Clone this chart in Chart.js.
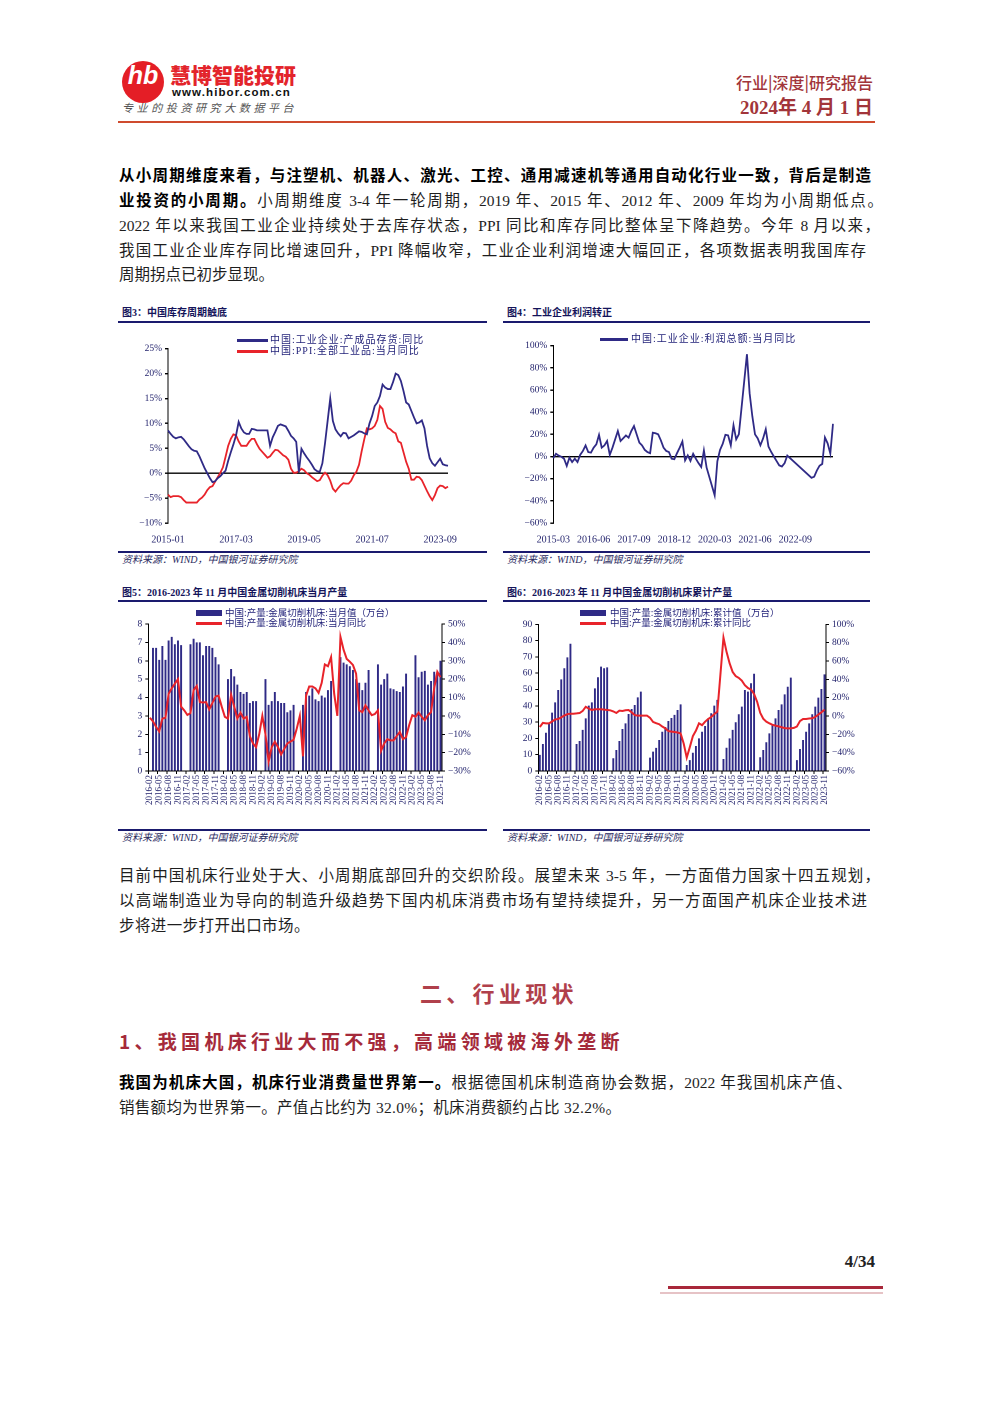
<!DOCTYPE html>
<html><head><meta charset="utf-8">
<script src="https://cdn.jsdelivr.net/npm/chart.js@4.4.1/dist/chart.umd.min.js"></script>
<style>
html,body{margin:0;padding:0;background:#fff;}
body{width:992px;height:1403px;position:relative;overflow:hidden;font-family:'Liberation Serif','Noto Sans CJK SC',serif;color:#1e1e1e;}
.a{position:absolute;white-space:nowrap;}
.ln{position:absolute;left:119px;height:24px;line-height:24px;font-size:15.5px;white-space:nowrap;text-align:justify;text-align-last:justify;}
.nat{text-align-last:auto;}
b{font-weight:700;color:#000;}
.ttl{position:absolute;font-size:10px;font-weight:700;color:#14145a;line-height:14px;white-space:nowrap;font-family:'Liberation Serif','Noto Sans CJK SC',serif;}
.rule{position:absolute;height:1.5px;background:#1a1a6e;}
.src{position:absolute;font-size:10px;font-style:italic;color:#2a2a5e;line-height:14px;white-space:nowrap;}
.lg{position:absolute;font-size:10px;color:#23237a;line-height:12px;white-space:nowrap;letter-spacing:1px;z-index:5;}
.lg2{position:absolute;font-size:9.5px;color:#23237a;line-height:12px;white-space:nowrap;z-index:5;}
.sw{position:absolute;z-index:5;}
canvas{position:absolute;}
</style></head>
<body>
<!-- header -->
<div class="a" style="left:122px;top:61px;width:42px;height:42px;border-radius:50%;background:#e41e26;"></div>
<div class="a" style="left:122px;top:61px;width:42px;height:42px;line-height:42px;text-align:center;color:#fff;font:italic 700 25px 'Liberation Sans',sans-serif;">hb</div>
<div class="a" style="left:170px;top:61px;font-size:21px;line-height:26px;font-weight:900;color:#e3242b;font-family:'Noto Sans CJK SC',sans-serif;">慧博智能投研</div>
<div class="a" style="left:172px;top:86px;font:700 11.5px/13px 'Liberation Sans',sans-serif;letter-spacing:1.1px;color:#111;">www.hibor.com.cn</div>
<div class="a" style="left:122px;top:100px;font-size:11px;line-height:14px;letter-spacing:3.6px;color:#555;font-style:italic;font-family:'Noto Sans CJK SC',sans-serif;">专业的投资研究大数据平台</div>
<div class="a" style="right:119px;top:72px;font-size:16px;line-height:20px;color:#a2353a;font-weight:500;font-family:'Noto Sans CJK SC',sans-serif;">行业|深度|研究报告</div>
<div class="a" style="right:119px;top:96px;font-size:19px;line-height:24px;font-weight:700;color:#a2353a;">2024年 4 月 1 日</div>
<div class="a" style="left:118px;top:121px;width:757px;height:2px;background:#cf4b2e;"></div>

<!-- paragraph 1 -->
<div class="ln" style="top:164px;width:752px;"><b>从小周期维度来看，与注塑机、机器人、激光、工控、通用减速机等通用自动化行业一致，背后是制造</b></div>
<div class="ln" style="top:189px;width:764px;"><b>业投资的小周期。</b>小周期维度 3-4 年一轮周期，2019 年、2015 年、2012 年、2009 年均为小周期低点。</div>
<div class="ln" style="top:214px;width:761px;">2022 年以来我国工业企业持续处于去库存状态，PPI 同比和库存同比整体呈下降趋势。今年 8 月以来，</div>
<div class="ln" style="top:239px;width:747px;">我国工业企业库存同比增速回升，PPI 降幅收窄，工业企业利润增速大幅回正，各项数据表明我国库存</div>
<div class="ln nat" style="top:263px;">周期拐点已初步显现。</div>

<!-- chart frames -->
<div class="ttl" style="left:122px;top:306px;">图3：中国库存周期触底</div>
<div class="rule" style="left:118px;top:321px;width:369px;"></div>
<div class="rule" style="left:118px;top:551px;width:369px;"></div>
<div class="src" style="left:122px;top:553px;">资料来源：WIND，中国银河证券研究院</div>

<div class="ttl" style="left:507px;top:306px;">图4：工业企业利润转正</div>
<div class="rule" style="left:503px;top:321px;width:367px;"></div>
<div class="rule" style="left:503px;top:551px;width:367px;"></div>
<div class="src" style="left:507px;top:553px;">资料来源：WIND，中国银河证券研究院</div>

<div class="ttl" style="left:122px;top:586px;">图5：2016-2023 年 11 月中国金属切削机床当月产量</div>
<div class="rule" style="left:118px;top:600px;width:369px;"></div>
<div class="rule" style="left:118px;top:829px;width:369px;"></div>
<div class="src" style="left:122px;top:831px;">资料来源：WIND，中国银河证券研究院</div>

<div class="ttl" style="left:507px;top:586px;">图6：2016-2023 年 11 月中国金属切削机床累计产量</div>
<div class="rule" style="left:503px;top:600px;width:367px;"></div>
<div class="rule" style="left:503px;top:829px;width:367px;"></div>
<div class="src" style="left:507px;top:831px;">资料来源：WIND，中国银河证券研究院</div>

<!-- legends -->
<div class="sw" style="left:237px;top:339px;width:31px;height:2.5px;background:#2f2a86;"></div>
<div class="lg" style="left:270px;top:334px;">中国:工业企业:产成品存货:同比</div>
<div class="sw" style="left:237px;top:350px;width:31px;height:2.5px;background:#e8232a;"></div>
<div class="lg" style="left:270px;top:345px;">中国:PPI:全部工业品:当月同比</div>

<div class="sw" style="left:600px;top:338px;width:28px;height:2.5px;background:#2f2a86;"></div>
<div class="lg" style="left:631px;top:333px;">中国:工业企业:利润总额:当月同比</div>

<div class="sw" style="left:196px;top:610px;width:26px;height:6px;background:#2f2a86;"></div>
<div class="lg2" style="left:225px;top:607px;">中国:产量:金属切削机床:当月值（万台）</div>
<div class="sw" style="left:196px;top:622px;width:26px;height:2.5px;background:#e8232a;"></div>
<div class="lg2" style="left:225px;top:617px;">中国:产量:金属切削机床:当月同比</div>

<div class="sw" style="left:580px;top:610px;width:26px;height:6px;background:#2f2a86;"></div>
<div class="lg2" style="left:610px;top:607px;">中国:产量:金属切削机床:累计值（万台）</div>
<div class="sw" style="left:580px;top:622px;width:26px;height:2.5px;background:#e8232a;"></div>
<div class="lg2" style="left:610px;top:617px;">中国:产量:金属切削机床:累计同比</div>

<canvas id="c3" width="369" height="211" style="left:118px;top:340px;"></canvas>
<canvas id="c4" width="367" height="215" style="left:503px;top:336px;"></canvas>
<canvas id="c5" width="369" height="205" style="left:118px;top:614px;"></canvas>
<canvas id="c6" width="367" height="205" style="left:503px;top:614px;"></canvas>

<!-- paragraph 2 -->
<div class="ln" style="top:864px;width:761px;">目前中国机床行业处于大、小周期底部回升的交织阶段。展望未来 3-5 年，一方面借力国家十四五规划，</div>
<div class="ln" style="top:889px;width:748px;">以高端制造业为导向的制造升级趋势下国内机床消费市场有望持续提升，另一方面国产机床企业技术进</div>
<div class="ln nat" style="top:914px;letter-spacing:0.4px;">步将进一步打开出口市场。</div>

<div class="a" style="left:420px;top:976px;font-size:22px;line-height:32px;font-weight:700;letter-spacing:4.3px;color:#b0404b;font-family:'Noto Sans CJK SC',sans-serif;">二、行业现状</div>
<div class="a" style="left:119px;top:1027px;font-size:19px;line-height:28px;font-weight:700;letter-spacing:4.3px;color:#a52a3a;font-family:'Noto Sans CJK SC',sans-serif;">1、我国机床行业大而不强，高端领域被海外垄断</div>

<div class="ln" style="top:1071px;width:733px;"><b>我国为机床大国，机床行业消费量世界第一。</b>根据德国机床制造商协会数据，2022 年我国机床产值、</div>
<div class="ln nat" style="top:1096px;letter-spacing:0.3px;">销售额均为世界第一。产值占比约为 32.0%；机床消费额约占比 32.2%。</div>

<div class="a" style="right:117px;top:1250px;font-size:17px;line-height:24px;font-weight:700;color:#222;">4/34</div>
<div class="a" style="left:668px;top:1286px;width:215px;height:3px;background:#a8283a;"></div>
<div class="a" style="left:660px;top:1292px;width:223px;height:2px;background:#e6c3c6;"></div>

<script>
// ---------------- data ----------------
// Fig 3: monthly 2015-01 .. 2023-12
const invYoY = [
 8.6,7.9,7.3,7.0,7.2,7.3,6.8,6.1,5.4,4.8,4.5,4.4,
 3.4,2.2,1.0,0.0,-1.0,-1.8,-1.6,-1.0,-0.6,0.0,0.5,2.5,
 4.2,5.8,7.6,10.3,9.0,8.2,7.9,7.9,8.9,8.8,8.6,8.6,
 8.6,8.6,8.6,5.5,7.2,8.3,9.5,9.8,9.6,9.4,8.5,7.5,
 7.0,6.3,0.2,4.9,4.0,3.2,2.5,1.7,0.8,0.4,0.3,2.0,
 6.0,10.5,15.0,10.5,8.8,8.0,7.4,8.1,8.0,7.0,7.3,7.6,
 8.0,8.4,8.3,8.0,7.8,10.0,11.5,13.5,14.2,15.5,17.8,17.2,
 16.9,16.9,18.3,20.0,19.7,18.5,16.5,14.2,13.8,12.5,11.2,10.0,
 10.2,10.6,9.0,5.5,3.0,2.0,1.5,2.2,2.9,1.8,1.6,1.5
];
const ppiYoY = [
 -4.3,-4.8,-4.6,-4.6,-4.6,-4.8,-5.4,-5.9,-5.9,-5.9,-5.9,-5.9,
 -5.3,-4.9,-4.3,-3.4,-2.8,-2.6,-1.7,-0.8,0.1,1.2,3.3,5.5,
 6.9,7.8,7.6,6.4,5.5,5.5,5.5,6.3,6.9,6.9,5.8,4.9,
 4.3,3.7,3.1,3.4,4.1,4.7,4.6,4.1,3.6,3.3,2.7,0.9,
 0.1,0.1,0.4,0.9,0.6,0.0,-0.3,-0.8,-1.2,-1.6,-1.4,-0.5,
 0.1,-0.4,-1.5,-3.1,-3.7,-3.0,-2.4,-2.0,-2.1,-2.1,-1.5,-0.4,
 0.3,1.7,4.4,6.8,9.0,8.8,9.0,9.5,10.7,13.5,12.9,10.3,
 9.1,8.8,8.3,8.0,6.4,6.1,4.2,2.3,0.9,-1.3,-1.3,-0.7,
 -0.8,-1.4,-2.5,-3.6,-4.6,-5.4,-4.4,-3.0,-2.5,-2.6,-3.0,-2.7
];
// Fig 4: monthly 2015-03 .. 2023-11
const profitYoY = [
 -1.5,2.5,0.8,-0.2,-2.0,-8.5,-1.0,-5.0,-2.0,-5.0,
 1.5,5.0,10.0,4.0,3.5,8.0,11.0,19.5,8.0,10.0,14.0,1.5,
 8.0,15.5,23.0,14.0,16.5,19.0,17.0,23.0,27.5,20.0,12.5,10.0,
 6.0,4.0,3.0,21.5,21.0,20.0,14.5,8.0,5.0,4.0,-2.0,-2.5,
 3.0,8.0,13.5,-3.5,1.0,-4.0,2.5,-2.0,-6.0,-9.5,5.5,-10.0,
 null,null,-35.0,-4.3,6.0,11.5,19.6,19.1,10.1,28.2,15.5,20.1,
 null,null,92.3,57.0,36.4,20.0,16.4,10.1,16.3,24.6,9.0,4.2,
 0.0,-4.0,-8.0,-9.0,-6.0,0.8,null,null,null,null,null,null,
 null,null,-19.2,-18.2,-12.6,-8.3,-6.7,17.2,11.9,2.7,29.5
];
// Fig 5: monthly 2016-02 .. 2023-11 (万台, %)
const monthProd = [
 null,6.7,6.7,6.05,6.8,6.05,7.1,7.3,6.9,7.1,6.85,
 null,null,6.9,7.2,7.0,7.0,6.3,6.8,6.8,6.7,6.2,5.8,
 null,null,5.0,5.55,5.15,4.7,4.3,4.2,4.3,3.7,3.8,3.8,
 null,null,5.0,3.6,3.8,4.3,3.8,3.7,3.7,3.2,3.3,3.6,
 null,null,3.6,4.3,4.1,4.5,3.9,3.8,4.1,4.0,4.4,4.9,
 null,null,6.2,5.9,5.8,5.7,5.5,5.0,4.8,4.4,4.8,5.5,
 null,null,5.8,4.7,5.0,5.3,4.5,4.45,4.35,4.3,4.6,5.3,
 null,null,6.3,5.1,5.4,5.45,4.7,4.9,5.4,5.35,6.0
];
const monthYoY = [
 -1,-3,-6,-8.5,-1.5,-1,12,15,17.5,20,5,
 3,0.5,1.5,14,16.3,7.5,7.3,7.5,3.5,7,10.5,11,
 5,-0.5,-1.5,11.5,5,-1.5,1.8,-1.5,-0.5,-11,-15,-17,
 -10,0,-10,-25,-17,-14,-17,-21,-18,-15,-14,-13,
 -7,0,-22,11,16,16,15,12.5,18,28,27,32,
 12,0,43,36,31,29.5,27.7,23,3,2,5.8,3,
 0.4,1,3,-19,-15,-12.7,-13.3,-13.3,-11,-8.7,-12.7,-11.5,
 -5,0.4,-0.5,1.8,-0.5,-2.4,0.4,2,15,24,21
];
// Fig 6: cumulative 2016-02 .. 2023-11 (万台, %)
const cumProd = [
 9.9,16.6,23.5,29.2,35.8,42.1,49.7,56.2,63.0,69.7,78.1,
 null,16.6,18.4,25.2,32.3,40.1,42.1,50.7,57.5,64.0,63.0,63.6,
 null,7.8,12.9,18.4,25.8,29.2,35.0,38.0,40.5,45.2,48.7,null,
 null,8.2,11.9,14.2,19.0,24.1,27.0,30.7,32.5,34.4,37.4,40.9,
 null,3.7,6.7,11.2,15.3,20.0,24.1,27.6,32.3,35.4,40.1,43.6,
 null,7.4,14.3,20.0,25.2,29.9,34.8,39.5,49.7,48.7,53.8,59.7,
 null,8.4,12.9,17.6,23.1,28.2,32.3,37.4,40.9,47.0,51.7,57.3,
 null,6.7,13.5,19.0,24.1,29.2,34.8,39.5,45.0,50.3,59.3
];
const cumYoY = [
 -12,-7.5,-8,-8,-6,-3.8,-3.3,-1.5,0.5,2,2.5,
 2.5,2.8,3.2,5.5,10,8,6.5,7.3,7.3,7.3,7,6.5,
 6.2,5,3.3,5.8,5.5,6.2,6.5,4,1,0.4,0.4,0.4,
 0.4,-2,-6.5,-7.8,-9,-11.5,-13.5,-16.5,-17,-17.5,-18,-19,
 -30,-45.5,-34,-22,-16,-8,-10,-6.2,-3.3,-1,2,4.7,
 null,85.5,70,57.5,48,43.5,41.5,38.5,33.5,30.5,28.8,24,
 15.5,3.5,-3,-6.2,-8,-9.6,-10.5,-11.3,-12.3,-13.2,-13.5,-13.5,
 -13,-11.5,-5.5,-3.3,-3.3,-2.8,-2.5,-1,1.5,4,7
];
// tick label settings
const fig3Start = [2015, 1], fig3Step = 26;
const fig4Start = [2015, 3], fig4Step = 15;
const fig56Start = [2016, 2], fig56Step = 3;

function monthLabels(start, n){
  const out=[]; let y=start[0], m=start[1];
  for(let i=0;i<n;i++){ out.push(y+'-'+String(m).padStart(2,'0')); m++; if(m>12){m=1;y++;} }
  return out;
}
const lab3 = monthLabels(fig3Start, invYoY.length);
const lab4 = monthLabels(fig4Start, profitYoY.length);
const lab56 = monthLabels(fig56Start, monthProd.length);

// ---------------- styles ----------------
const NAVY='#2f2a86', RED='#e8232a', TXT='#1f1f6a';
const FAM="'Liberation Serif','Noto Sans CJK SC',serif";
const pct = v => (v<0 ? '\u2212'+Math.abs(v) : v)+'%';
const fixW = w => s => { s.width = w; };
const fixH = h => s => { s.height = h; };
const base = {responsive:false, animation:false, devicePixelRatio:2,
  plugins:{legend:{display:false}, tooltip:{enabled:false}}};
const zeroGrid = {color:c => (c.tick && c.tick.value===0) ? '#000' : 'rgba(0,0,0,0)', lineWidth:1.4, tickColor:'#000', tickLength:3};

new Chart(document.getElementById('c3'), {
  type:'line',
  data:{labels:lab3, datasets:[
    {data:invYoY, borderColor:NAVY, backgroundColor:NAVY, borderWidth:1.8, pointRadius:0, tension:0},
    {data:ppiYoY, borderColor:RED, backgroundColor:RED, borderWidth:1.8, pointRadius:0, tension:0}
  ]},
  options:{...base, layout:{padding:{left:0,top:8,right:39,bottom:8}},
    scales:{
      x:{grid:{display:false}, border:{display:false},
         ticks:{autoSkip:false, maxRotation:0, minRotation:0, color:TXT, font:{family:FAM,size:10}, padding:3,
                callback:(v,i)=> i%fig3Step===0 ? lab3[i] : ''}, afterFit:fixH(20)},
      y:{min:-10, max:25, grid:zeroGrid, border:{color:'#000', width:1},
         ticks:{stepSize:5, color:TXT, font:{family:FAM,size:9.5}, callback:pct, padding:3}, afterFit:fixW(50)}
    }}
});

new Chart(document.getElementById('c4'), {
  type:'line',
  data:{labels:lab4, datasets:[
    {data:profitYoY, borderColor:NAVY, backgroundColor:NAVY, borderWidth:1.8, pointRadius:0, tension:0, spanGaps:true}
  ]},
  options:{...base, layout:{padding:{left:0,top:9.7,right:37,bottom:8}},
    scales:{
      x:{grid:{display:false}, border:{display:false},
         ticks:{autoSkip:false, maxRotation:0, minRotation:0, color:TXT, font:{family:FAM,size:10}, padding:3,
                callback:(v,i)=> i%fig4Step===0 ? lab4[i] : ''}, afterFit:fixH(20)},
      y:{min:-60, max:100, grid:zeroGrid, border:{color:'#000', width:1},
         ticks:{stepSize:20, color:TXT, font:{family:FAM,size:9.5}, callback:pct, padding:3}, afterFit:fixW(50.3)}
    }}
});

function comboChart(id, prod, yoy, leftMax, leftStep, rMin, rMax, rStep, padTop, leftW, rightW){
  new Chart(document.getElementById(id), {
    type:'bar',
    data:{labels:lab56, datasets:[
      {type:'line', data:yoy, yAxisID:'y2', borderColor:RED, backgroundColor:RED, borderWidth:2, pointRadius:0, tension:0, spanGaps:true, order:0},
      {type:'bar', data:prod, yAxisID:'y', backgroundColor:NAVY, barPercentage:0.62, categoryPercentage:1, order:1}
    ]},
    options:{...base, layout:{padding:{left:0,top:padTop,right:0,bottom:4}},
      scales:{
        x:{grid:{display:true, drawOnChartArea:false, color:c => (c.index%fig56Step===0)?'#000':'rgba(0,0,0,0)', tickLength:3},
           border:{color:'#000', width:1},
           ticks:{autoSkip:false, minRotation:90, maxRotation:90, color:TXT, font:{family:FAM,size:9}, padding:1,
                  callback:(v,i)=> i%fig56Step===0 ? lab56[i] : ''}, afterFit:fixH(44)},
        y:{position:'left', min:0, max:leftMax, grid:{drawOnChartArea:false, color:'#000', tickLength:3}, border:{color:'#000', width:1},
           ticks:{stepSize:leftStep, color:TXT, font:{family:FAM,size:9.5}, padding:3}, afterFit:fixW(leftW)},
        y2:{position:'right', min:rMin, max:rMax, grid:{drawOnChartArea:false, color:'#000', tickLength:3}, border:{color:'#000', width:1},
           ticks:{stepSize:rStep, color:TXT, font:{family:FAM,size:9.5}, callback:pct, padding:3}, afterFit:fixW(rightW)}
      }}
  });
}
comboChart('c5', monthProd, monthYoY, 8, 1, -30, 50, 10, 10, 30.3, 45);
comboChart('c6', cumProd, cumYoY, 90, 10, -60, 100, 20, 10.3, 35.3, 44);
</script>
</body></html>
